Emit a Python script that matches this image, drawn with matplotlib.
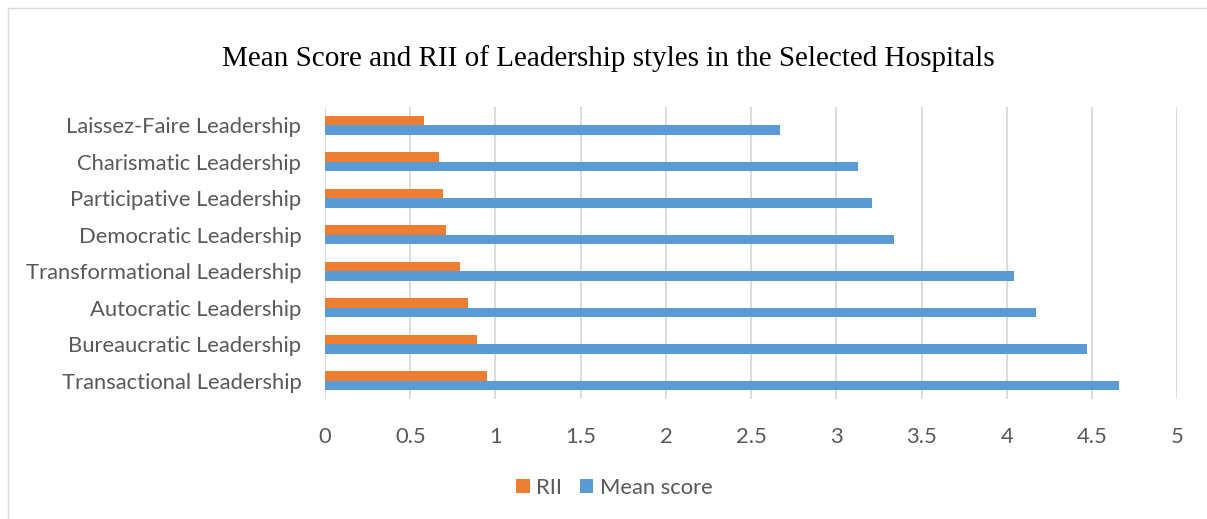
import matplotlib
matplotlib.use("Agg")
import matplotlib.pyplot as plt
from matplotlib.patches import Rectangle
import numpy as np

# bottom to top, as drawn
styles = ["Transactional Leadership", "Bureaucratic Leadership", "Autocratic Leadership",
          "Transformational Leadership", "Democratic Leadership", "Participative Leadership",
          "Charismatic Leadership", "Laissez-Faire Leadership"]
mean_score = [4.66, 4.47, 4.17, 4.04, 3.34, 3.21, 3.13, 2.67]
rii = [0.95, 0.89, 0.84, 0.79, 0.71, 0.69, 0.67, 0.58]

orange = "#ED7D31"
blue = "#5B9BD5"
grey = "#595959"

fig = plt.figure(figsize=(12.07, 5.19), dpi=100)
ax = fig.add_axes([0.2693, 0.2312, 0.7060, 0.5626])

y = np.arange(len(styles))
h = 0.26
ax.barh(y - h / 2, mean_score, height=h, color=blue, label="Mean score", zorder=3)
ax.barh(y + h / 2, rii, height=h, color=orange, label="RII", zorder=3)

ax.set_xlim(0, 5)
ax.set_ylim(-0.5, len(styles) - 0.5)
ax.set_xticks(np.arange(0, 5.01, 0.5))
ax.set_xticklabels(["0", "0.5", "1", "1.5", "2", "2.5", "3", "3.5", "4", "4.5", "5"])
ax.set_yticks(y)
ax.set_yticklabels(styles)
ax.tick_params(axis="both", length=0, labelcolor=grey, labelsize=15.8)
ax.tick_params(axis="x", pad=20)
ax.tick_params(axis="y", pad=17)
for lab in ax.get_xticklabels() + ax.get_yticklabels():
    lab.set_fontfamily("Lato")
ax.grid(axis="x", color="#d9d9d9", linewidth=1.3, zorder=0)
for s in ax.spines.values():
    s.set_visible(False)

fig.text(0.504, 0.888, "Mean Score and RII of Leadership styles in the Selected Hospitals",
         ha="center", va="center", fontsize=21, family="Liberation Serif", color="black")

handles, labels = ax.get_legend_handles_labels()
leg = fig.legend(handles[::-1], labels[::-1], loc="center", bbox_to_anchor=(0.509, 0.06),
                 ncol=2, frameon=False, handlelength=0.6, handleheight=0.6,
                 handletextpad=0.3, columnspacing=0.8,
                 prop={"family": "Lato", "size": 15.8})
for t in leg.get_texts():
    t.set_color(grey)

fig.patches.append(Rectangle((8 / 1207, -0.05), 1.1, 1.0 - 8 / 519 + 0.05,
                             transform=fig.transFigure, fill=False,
                             edgecolor="#d9d9d9", linewidth=1))

fig.savefig("out.png", dpi=100, facecolor="white")
